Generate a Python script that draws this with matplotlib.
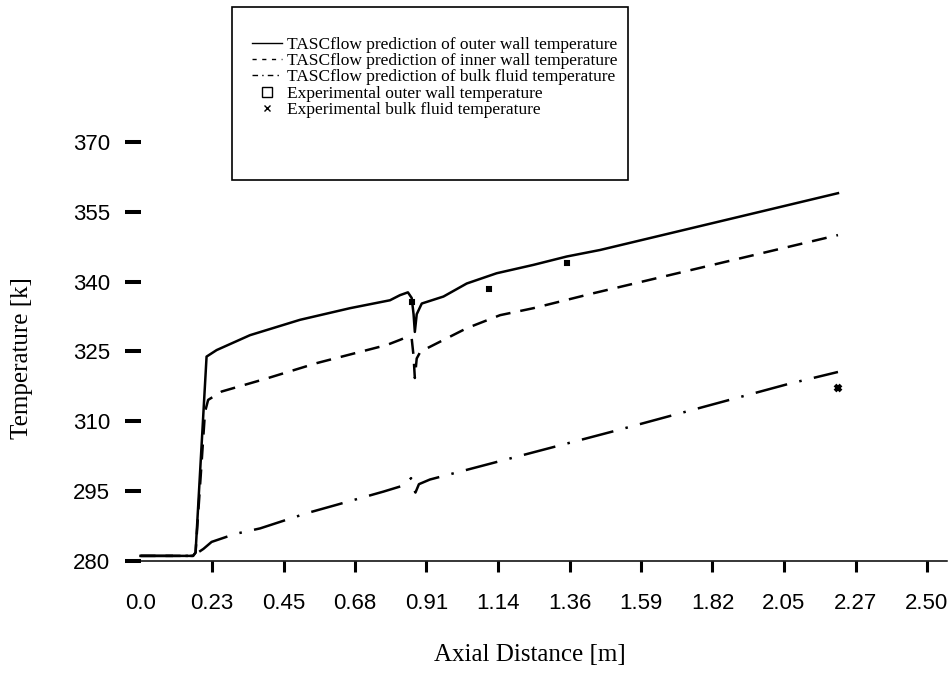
import matplotlib.pyplot as plt
import numpy as np
from matplotlib.lines import Line2D
from matplotlib.patches import Rectangle

# ---------------------------------------------------------------
# Data (x in m, temperature in K)
# ---------------------------------------------------------------
x_outer = [0.0, 0.167, 0.175, 0.21, 0.242, 0.348, 0.507, 0.666, 0.793, 0.825,
           0.85, 0.862, 0.868, 0.872, 0.878, 0.894, 0.963, 1.037, 1.132, 1.249,
           1.355, 1.461, 2.217]
t_outer = [281.1, 281.1, 281.8, 323.9, 325.3, 328.5, 331.8, 334.3, 336.0, 337.1,
           337.7, 336.5, 333.0, 329.2, 333.0, 335.3, 336.8, 339.6, 341.8, 343.6,
           345.4, 346.8, 359.0]

x_inner = [0.0, 0.167, 0.175, 0.205, 0.215, 0.258, 0.401, 0.56, 0.783, 0.825,
           0.85, 0.862, 0.868, 0.872, 0.878, 0.89, 0.92, 1.037, 1.143, 1.249,
           1.439, 2.217]
t_inner = [281.1, 281.1, 281.8, 312.0, 314.6, 316.4, 319.2, 322.5, 326.4, 327.5,
           328.2, 327.8, 324.0, 319.3, 323.5, 325.0, 326.0, 330.0, 332.8, 334.3,
           337.5, 350.0]

x_bulk = [0.0, 0.167, 0.2, 0.226, 0.3, 0.38, 0.53, 0.62, 0.772, 0.84,
          0.86, 0.868, 0.874, 0.885, 0.92, 1.5, 2.058, 2.217]
t_bulk = [281.1, 281.1, 282.6, 284.1, 285.8, 287.0, 290.3, 292.0, 294.9, 296.3,
          297.8, 295.5, 294.7, 296.5, 297.5, 307.8, 318.0, 320.6]

x_exp_outer = [0.862, 1.109, 1.355]
t_exp_outer = [335.7, 338.4, 344.1]

x_exp_bulk = [2.217]
t_exp_bulk = [317.2]

xtick_vals = np.arange(12) * 2.5 / 11
xtick_labels = ['0.0', '0.23', '0.45', '0.68', '0.91', '1.14', '1.36',
                '1.59', '1.82', '2.05', '2.27', '2.50']
ytick_vals = [280, 295, 310, 325, 340, 355, 370]

legend_labels = ['TASCflow prediction of outer wall temperature',
                 'TASCflow prediction of inner wall temperature',
                 'TASCflow prediction of bulk fluid temperature',
                 'Experimental outer wall temperature',
                 'Experimental bulk fluid temperature']

# ---------------------------------------------------------------
W, H = 951, 680
fig = plt.figure(figsize=(W / 100, H / 100), dpi=100)
ax = fig.add_axes([127 / W, (H - 561) / H, 820 / W, 561 / H])

lw = 1.8
ax.plot(x_outer, t_outer, color='black', lw=lw, solid_joinstyle='round')
ax.plot(x_inner, t_inner, color='black', lw=lw, dashes=(6, 4))
ax.plot(x_bulk, t_bulk, color='black', lw=lw, dashes=(13, 5, 1, 5))
ax.plot(x_exp_outer, t_exp_outer, ls='none', marker='s', ms=3.5,
        mfc='black', mec='black', mew=1.5)
ax.plot(x_exp_bulk, t_exp_bulk, ls='none', marker='x', ms=5,
        mec='black', mew=2.8)

ax.set_xlim((127 - 140.5) / 314.6, (947 - 140.5) / 314.6)
ax.set_ylim(280, 280 + 561 / 4.656)

for s in ['top', 'right']:
    ax.spines[s].set_visible(False)
ax.spines['left'].set_position(('data', 0))
ax.spines['left'].set_visible(False)
ax.spines['bottom'].set_linewidth(1.1)

tick_font = dict(family='Liberation Sans', size=16)
ax.set_xticks(xtick_vals)
ax.set_xticklabels(xtick_labels, fontdict=tick_font)
ax.set_yticks(ytick_vals)
ax.set_yticklabels([str(v) for v in ytick_vals], fontdict=tick_font)
ax.tick_params(axis='x', direction='out', length=8, width=2.2, pad=15)
ax.tick_params(axis='y', direction='out', length=11.2, width=2.9, pad=10.5)
ax.xaxis.get_major_ticks()[0].tick1line.set_visible(False)

label_font = dict(family='Liberation Serif', size=18)
ax.set_xlabel('Axial Distance [m]', fontdict=label_font)
ax.set_ylabel('Temperature [k]', fontdict=label_font)
ax.xaxis.set_label_coords((530 - 127) / 820, (561 - 655) / 561)
ax.xaxis.label.set_va('center')
ax.yaxis.set_label_coords((22 - 127) / 820, (561 - 358) / 561)
ax.yaxis.label.set_va('center')

# legend (drawn without frame, box added separately)
handles = [
    Line2D([], [], color='black', lw=1.0),
    Line2D([], [], color='black', lw=1.0, dashes=(3, 4)),
    Line2D([], [], color='black', lw=1.0, dashes=(4, 3, 1, 3)),
    Line2D([], [], ls='none', marker='s', ms=7, mfc='none', mec='black', mew=1.0),
    Line2D([], [], ls='none', marker='x', ms=5, mec='black', mew=1.0),
]
leg = fig.legend(handles, legend_labels, loc='upper left',
                 bbox_to_anchor=(252 / W, 1 - 37 / H), frameon=False,
                 prop=dict(family='Liberation Serif', size=12.5),
                 handlelength=1.7, handletextpad=0.3, labelspacing=0.0,
                 borderpad=0, borderaxespad=0)

fig.patches.append(Rectangle((232 / W, 1 - 180 / H), (628 - 232) / W, 173 / H,
                             transform=fig.transFigure, fill=False,
                             edgecolor='black', lw=1.2))

fig.savefig('out.png', dpi=100)
